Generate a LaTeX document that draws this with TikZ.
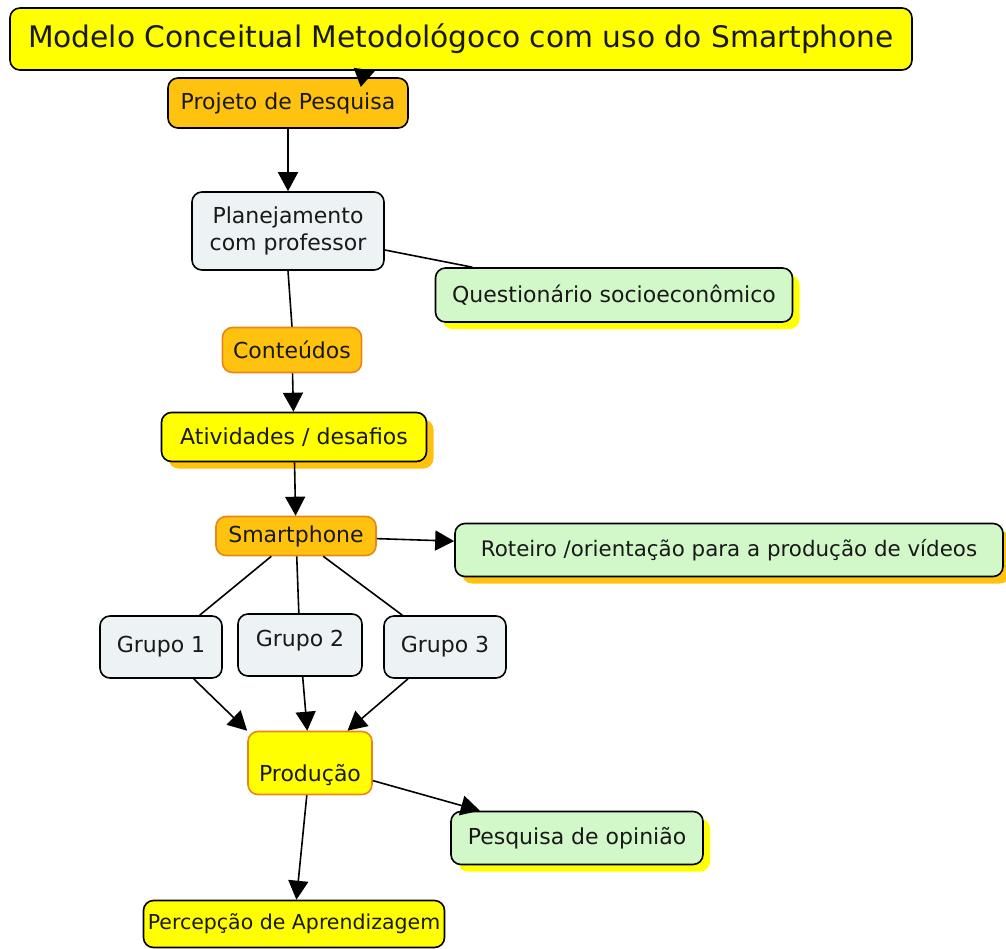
\documentclass[tikz,border=0pt]{standalone}
\usepackage{fontspec}
\setmainfont{DejaVu Sans}
\usetikzlibrary{arrows.meta,shadows}
\definecolor{mapyellow}{HTML}{FFFF00}
\definecolor{maporange}{HTML}{FFC20E}
\definecolor{mapedge}{HTML}{E8861A}
\definecolor{mapgrey}{HTML}{EDF2F5}
\definecolor{mapgreen}{HTML}{D2F8CA}
\tikzset{
    concept/.style={
        draw=black,
        line width=1.6pt,
        rounded corners=10pt,
        inner sep=0pt,
        align=center,
        text=black!90,
        font=\fontsize{22}{27}\selectfont
    },
    yellowbox/.style={concept, fill=mapyellow},
    orangebox/.style={concept, fill=maporange},
    greybox/.style={concept, fill=mapgrey},
    greenbox/.style={concept, fill=mapgreen},
    softedge/.style={draw=mapedge},
    yellowshadow/.style={
        drop shadow={shadow xshift=7pt, shadow yshift=-7pt, fill=mapyellow, opacity=1}
    },
    orangeshadow/.style={
        drop shadow={shadow xshift=7pt, shadow yshift=-7pt, fill=maporange, opacity=1}
    },
    link/.style={line width=1.6pt, black},
    arrowlink/.style={link, -{Triangle[length=19pt, width=20pt]}}
}
\begin{document}
\begin{tikzpicture}[x=1pt, y=-1pt]
                \useasboundingbox (0,0) rectangle (1006,948);

                \node[yellowbox, minimum width=902, minimum height=62,
                    font=\fontsize{29.7}{35}\selectfont] (title) at (461,39)
                    {Modelo Conceitual Metodológoco com uso do Smartphone};
                \node[orangebox, minimum width=240, minimum height=50] (proj) at (288,103) {Projeto de Pesquisa};
                \node[greybox, minimum width=192, minimum height=78] (plan) at (288,231) {Planejamento\\com professor};
                \node[greenbox, yellowshadow, minimum width=357, minimum height=54] (quest) at (614,295) {Questionário socioeconômico};
                \node[orangebox, softedge, minimum width=139, minimum height=45] (cont) at (292,350) {Conteúdos};
                \node[yellowbox, orangeshadow, minimum width=265, minimum height=49] (ativ) at (294,437) {Atividades / desafios};
                \node[orangebox, softedge, minimum width=160, minimum height=39] (smart) at (296,536) {Smartphone};
                \node[greenbox, orangeshadow, minimum width=548, minimum height=53,
                    font=\fontsize{21.4}{26}\selectfont] (rot) at (729,550) {Roteiro /orientação para a produção de vídeos};

                \node[greybox, minimum width=122, minimum height=62] (g1) at (161,647) {Grupo 1};
                \node[greybox, minimum width=124, minimum height=62,
                    text height=16pt, text depth=14pt] (g2) at (300,645) {Grupo 2};
                \node[greybox, minimum width=122, minimum height=62] (g3) at (445,647) {Grupo 3};

                \node[yellowbox, softedge, minimum width=124, minimum height=63,
                    text height=42pt, text depth=5pt] (prod) at (310,763) {Produção};
                \node[greenbox, yellowshadow, minimum width=252, minimum height=53] (pesq) at (577,838) {Pesquisa de opinião};
                \node[yellowbox, minimum width=301, minimum height=47,
                    font=\fontsize{20.5}{25}\selectfont] (perc) at (294,924) {Percepção de Aprendizagem};

                % ---- connectors
                \draw[arrowlink] (proj) -- (title);
                \draw[arrowlink] (proj) -- (plan);
                \draw[link] (plan) -- (quest);
                \draw[link] (plan.south) -- (cont.north);
                \draw[arrowlink] (cont) -- (ativ);
                \draw[arrowlink] (ativ) -- (smart);
                \draw[arrowlink] (smart) -- (rot);
                \draw[link] (smart) -- (g1);
                \draw[link] (smart) -- (g2);
                \draw[link] (smart) -- (g3);
                \draw[arrowlink] (g1) -- (prod.north west);
                \draw[arrowlink] (g2) -- (prod);
                \draw[arrowlink] (g3) -- (prod);
                \draw[arrowlink] (prod) -- (pesq);
                \draw[arrowlink] (prod) -- (perc);
\end{tikzpicture}
\end{document}
